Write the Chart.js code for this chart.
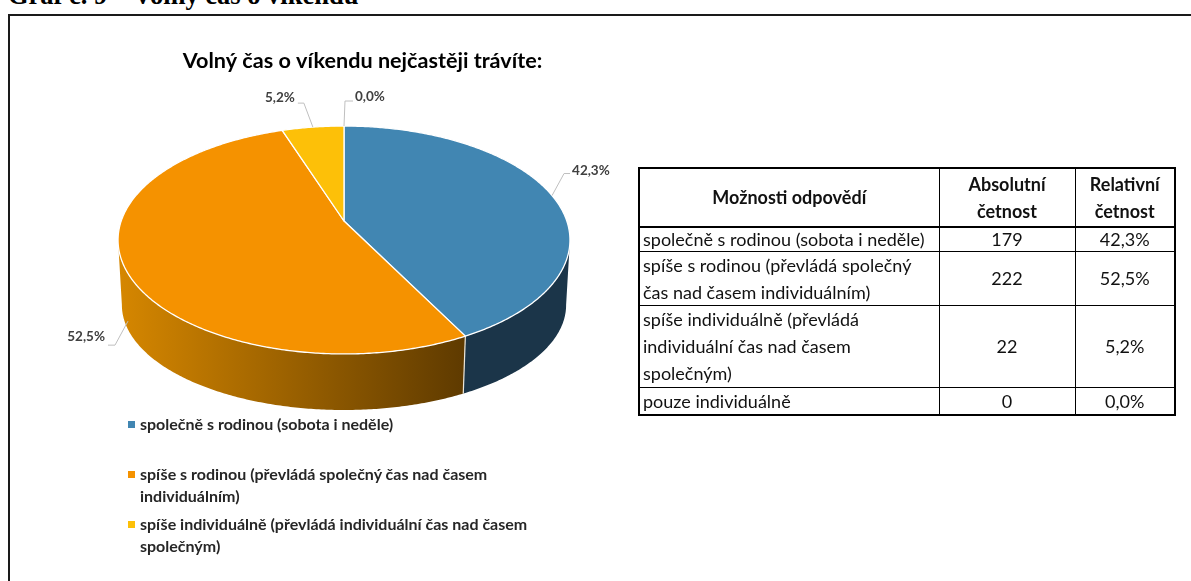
<!DOCTYPE html>
<html lang="cs">
<head>
<meta charset="utf-8">
<title>Volný čas o víkendu</title>
<script src="https://cdn.jsdelivr.net/npm/chart.js@4"></script>
<style>
    html, body { margin: 0; padding: 0; background: #fff; overflow: hidden; width: 1191px; height: 581px; }
    #caption { position: absolute; left: 8px; top: -20.5px; font: bold 26.5px "Liberation Serif", serif; color: #000; white-space: pre; }
    #frame { position: absolute; left: 8px; top: 14px; right: -5px; bottom: -5px; border-left: 2px solid #1a1a1a; border-top: 2px solid #1a1a1a; }
    #growth { position: absolute; left: 0; top: 0; }
    #legend { position: absolute; left: 128px; top: 0; font: bold 16px Lato, sans-serif; color: #262626; }
    #legend div { position: absolute; left: 12px; width: 395px; line-height: 22px; }
    #legend i { position: absolute; left: -12px; top: 8px; width: 7px; height: 7px; }
    #tbl { position: absolute; left: 638px; top: 167px; width: 536px; border-collapse: collapse; table-layout: fixed; font: 18px Lato, sans-serif; color: #111; border: 2px solid #000; }
    #tbl td, #tbl th { box-sizing: border-box; border: 1px solid #000; padding: 0 3px; text-align: center; white-space: pre-line; }
    #tbl th { font-weight: bold; border-bottom: 2px solid #000; }
    #tbl td:first-child { text-align: left; }
</style>
</head>
<body>
<div id="caption">Graf č. 9 – Volný čas o víkendu</div>
<div id="frame"></div>
<canvas id="growth" width="725" height="581"></canvas>
<div id="legend"></div>
<table id="tbl"></table>
<script>
    "use strict";

    var chartTitle = 'Volný čas o víkendu nejčastěji trávíte:';
    var categories = [
        'společně s rodinou (sobota i neděle)',
        'spíše s rodinou (převládá společný čas nad časem individuálním)',
        'spíše individuálně (převládá individuální čas nad časem společným)',
        'pouze individuálně'
    ];
    var counts = [179, 222, 22, 0];
    var shares = ['42,3%', '52,5%', '5,2%', '0,0%'];
    var tableHead = ['Možnosti odpovědí', 'Absolutní\nčetnost', 'Relativní\nčetnost'];
    var tableNames = [
        'společně s rodinou (sobota i neděle)',
        'spíše s rodinou (převládá společný\nčas nad časem individuálním)',
        'spíše individuálně (převládá\nindividuální čas nad časem\nspolečným)',
        'pouze individuálně'
    ];

    var sliceColors = ['#4186b2', '#f59200', '#fdc008', '#7f7f7f'];

    // the tilted pie: top face and bottom face of the disc, k is the perspective
    var k = -1 / 6;
    var topFace = { cx: 344, a: 222.8, b: 110.8, c: 221 };
    var bottomFace = { cx: 344, a: 219, b: 102, c: 287.6 };

    // the wall only shows between these two angles, where the rim turns away
    var wallFrom = Math.asin(-k);
    var wallTo = Math.PI - wallFrom;

    // label placing: elbow and line end relative to the slice, sink = how far down the wall the line starts
    var leaders = [
        { elbow: [12, -22], end: [18, -22], align: 'left', sink: 0, lift: 3 },
        { elbow: [-13, 24], end: [-20, 24], align: 'right', sink: 0.85, lift: 9 },
        { elbow: [-9, -24], end: [-15, -24], align: 'right', sink: 0, lift: 5 },
        { elbow: [1, -25], end: [9, -25], align: 'left', sink: 0, lift: 4 }
    ];

    function project(face, angle) {
        var u = Math.cos(angle), v = Math.sin(angle), w = 1 + k * v;
        return { x: face.cx + face.a * u / w, y: face.c + face.b * v / w };
    }

    function arcPoints(face, from, to) {
        var pts = [], steps = Math.max(1, Math.ceil(Math.abs(to - from) / 0.01));
        for (var i = 0; i <= steps; i++) {
            pts.push(project(face, from + (to - from) * i / steps));
        }
        return pts;
    }

    function trace(ctx, pts, start) {
        pts.forEach(function(p, i) {
            if (i === 0 && start) ctx.moveTo(p.x, p.y); else ctx.lineTo(p.x, p.y);
        });
    }

    var tiltedPie = {
        id: 'tiltedPie',
        beforeDatasetDraw: function(chart, args) {
            var ctx = chart.ctx, arcs = args.meta.data;
            ctx.save();

            // walls
            arcs.forEach(function(arc, i) {
                var from = Math.max(arc.startAngle, wallFrom), to = Math.min(arc.endAngle, wallTo);
                if (to <= from) return;
                var fill = '#1b3549';
                if (i === 1) {
                    fill = ctx.createLinearGradient(118, 0, 466, 0);
                    fill.addColorStop(0, '#d68700');
                    fill.addColorStop(1, '#5e3a00');
                }
                ctx.beginPath();
                trace(ctx, arcPoints(topFace, from, to), true);
                trace(ctx, arcPoints(bottomFace, from, to).reverse(), false);
                ctx.closePath();
                ctx.fillStyle = fill;
                ctx.fill();
            });

            // seam on the wall, only where it faces us
            arcs.forEach(function(arc) {
                if (Math.sin(arc.startAngle) <= 0) return;
                var a = project(topFace, arc.startAngle), b = project(bottomFace, arc.startAngle);
                ctx.beginPath();
                ctx.moveTo(a.x, a.y);
                ctx.lineTo(b.x, b.y);
                ctx.strokeStyle = '#ece6da';
                ctx.lineWidth = 1.2;
                ctx.stroke();
            });

            // top faces
            var apex = { x: topFace.cx, y: topFace.c };
            arcs.forEach(function(arc, i) {
                if (arc.endAngle - arc.startAngle <= 0) return;
                ctx.beginPath();
                ctx.moveTo(apex.x, apex.y);
                trace(ctx, arcPoints(topFace, arc.startAngle, arc.endAngle), false);
                ctx.closePath();
                ctx.fillStyle = sliceColors[i];
                ctx.fill();
                ctx.strokeStyle = '#fff';
                ctx.lineWidth = 1.3;
                ctx.lineJoin = 'round';
                ctx.stroke();
            });

            // leader lines and percent labels
            arcs.forEach(function(arc, i) {
                var mid = (arc.startAngle + arc.endAngle) / 2, opt = leaders[i];
                var a = project(topFace, mid), b = project(bottomFace, mid);
                var x = a.x + (b.x - a.x) * opt.sink, y = a.y + (b.y - a.y) * opt.sink;
                ctx.beginPath();
                ctx.moveTo(x, y);
                ctx.lineTo(x + opt.elbow[0], y + opt.elbow[1]);
                ctx.lineTo(x + opt.end[0], y + opt.end[1]);
                ctx.strokeStyle = '#bfbfbf';
                ctx.lineWidth = 1;
                ctx.stroke();

                ctx.font = 'bold 13.5px Lato, sans-serif';
                ctx.fillStyle = '#404040';
                ctx.textBaseline = 'middle';
                ctx.textAlign = opt.align;
                ctx.fillText(shares[i], x + opt.end[0] + (opt.align === 'left' ? 2 : -3), y + opt.end[1] - opt.lift);
            });

            ctx.restore();
            return false; // the flat arcs are replaced by the tilted ones above
        }
    };

    var ctx = document.getElementById('growth').getContext('2d');

    var myChart = new Chart(ctx, {
        type: 'pie',
        data: {
            labels: categories,
            datasets: [{
                data: counts,
                backgroundColor: sliceColors
            }]
        },
        options: {
            responsive: false,
            animation: false,
            plugins: {
                legend: { display: false },
                tooltip: { enabled: false },
                title: {
                    display: true,
                    text: chartTitle,
                    color: '#000',
                    font: { family: 'Lato', weight: 'bold', size: 21.6 },
                    padding: { top: 48, bottom: 0 }
                }
            }
        },
        plugins: [tiltedPie]
    });

    // legend, the reference shows only the first three entries
    var legendTops = [413, 463, 513];
    var legendEl = document.getElementById('legend');
    legendTops.forEach(function(top, i) {
        var d = document.createElement('div');
        d.style.top = top + 'px';
        d.textContent = categories[i];
        var m = document.createElement('i');
        m.style.background = sliceColors[i];
        d.appendChild(m);
        legendEl.appendChild(d);
    });

    // table next to the pie
    var colWidths = [300, 136, 100];
    var rowHeights = [59, 24, 53, 81, 27];
    var lineHeights = [27, 23, 26.5, 27, 26];
    var tbl = document.getElementById('tbl');
    var head = tbl.insertRow();
    head.style.height = rowHeights[0] + 'px';
    head.style.lineHeight = lineHeights[0] + 'px';
    tableHead.forEach(function(text, i) {
        var th = document.createElement('th');
        th.textContent = text;
        th.style.width = colWidths[i] + 'px';
        head.appendChild(th);
    });
    tableNames.forEach(function(name, i) {
        var row = tbl.insertRow();
        row.style.height = rowHeights[i + 1] + 'px';
        row.style.lineHeight = lineHeights[i + 1] + 'px';
        row.insertCell().textContent = name;
        row.insertCell().textContent = counts[i];
        row.insertCell().textContent = shares[i];
    });
</script>
</body>
</html>
